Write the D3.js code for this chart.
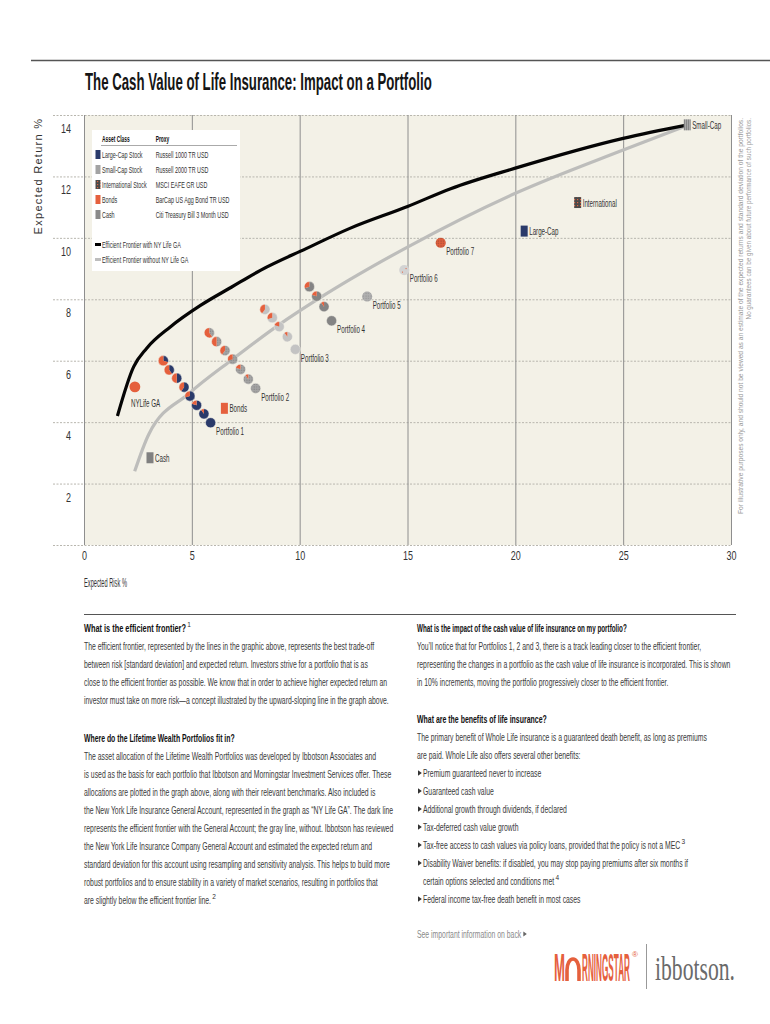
<!DOCTYPE html>
<html><head><meta charset="utf-8">
<script src="https://cdn.jsdelivr.net/npm/d3@7"></script>
<style>body{margin:0;background:#fff}</style>
</head><body>
<svg id="c" width="770" height="1024"></svg>
<script>
// ---------------- DATA ----------------
const xTicks = [0, 5, 10, 15, 20, 25, 30];
const yTicks = [2, 4, 6, 8, 10, 12, 14];
const yGrid = [0, 2, 4, 6, 8, 10, 12, 14];

// efficient frontiers [risk, return]
const frontierWithGA = [[1.55,4.2],[2.3,5.8],[2.9,6.4],[4.0,7.1],[5.4,7.8],[6.85,8.4],[8.2,8.95],[10.3,9.65],[12.3,10.3],[15,11.02],[17,11.6],[20,12.27],[25,13.24],[28,13.68]];
const frontierWithoutGA = [[2.35,2.4],[3.0,3.6],[4.9,4.95],[6.8,6.0],[9.1,7.2],[10.9,8.03],[12.3,8.63],[15,9.7],[20,11.45],[25,12.86],[27.9,13.64]];

// portfolio tracks [risk, return, share of NY Life GA]
const portfolio1Track = [[3.68,6.00,0.7],[3.95,5.70,0.6],[4.30,5.43,0.5],[4.64,5.14,0.4],[4.91,4.85,0.3],[5.22,4.55,0.2],[5.56,4.27,0.1],[5.87,3.98,0]];
const portfolio2Track = [[5.81,6.91,0.6],[6.15,6.62,0.5],[6.54,6.33,0.4],[6.89,6.05,0.3],[7.26,5.72,0.2],[7.62,5.40,0.1],[7.96,5.10,0]];
const portfolio3Track = [[8.39,7.67,0.4],[8.73,7.40,0.3],[9.05,7.11,0.2],[9.43,6.78,0.1],[9.80,6.37,0]];
const portfolio4Track = [[10.45,8.41,0.3],[10.79,8.10,0.2],[11.13,7.76,0.1],[11.48,7.30,0]];
const trackNames = ["Portfolio 1", "Portfolio 2", "Portfolio 3", "Portfolio 4"];

// single portfolios
const singleNames = ["Portfolio 5", "Portfolio 6", "Portfolio 7"];
const singleRisk = [13.13, 14.85, 16.54];
const singleReturn = [8.09, 8.95, 9.84];

// NY Life General Account
const gaName = "NYLife GA";
const gaRisk = 2.36, gaReturn = 5.15;

// benchmarks
const benchNames = ["Bonds", "Cash", "Large-Cap", "International", "Small-Cap"];
const benchRisk = [6.51, 3.06, 20.41, 22.89, 27.97];
const benchReturn = [4.45, 2.84, 10.22, 11.15, 13.68];

// legend
const assetClasses = ["Large-Cap Stock", "Small-Cap Stock", "International Stock", "Bonds", "Cash"];
const proxies = ["Russell 1000 TR USD", "Russell 2000 TR USD", "MSCI EAFE GR USD", "BarCap US Agg Bond TR USD", "Citi Treasury Bill 3 Month USD"];
const lineLegend = ["Efficient Frontier with NY Life GA", "Efficient Frontier without NY Life GA"];

// ---------------- STYLE ----------------
const FONT = "'Liberation Sans Narrow','Liberation Sans',Arial,sans-serif";
const SANS = "'Liberation Sans',Arial,sans-serif";
const ORANGE = "#e5603d", NAVY = "#2a3a6a";
const svg = d3.select("#c");
const defs = svg.append("defs");
function pat(id, w, bg, draw) {
  const p = defs.append("pattern").attr("id", id).attr("width", w).attr("height", w).attr("patternUnits", "userSpaceOnUse");
  p.append("rect").attr("width", w).attr("height", w).attr("fill", bg);
  draw(p);
}
pat("stip", 2.5, "#a4a4a4", p => p.append("rect").attr("x", 0.5).attr("y", 0.5).attr("width", 1).attr("height", 1).attr("fill", "#7a7a7a"));
pat("stip5", 2.5, "#b0b0b0", p => p.append("rect").attr("x", 0.5).attr("y", 0.5).attr("width", 1).attr("height", 1).attr("fill", "#8a8a8a"));
pat("check", 3, "#4a4a4a", p => p.append("rect").attr("x", 1).attr("y", 1).attr("width", 1.2).attr("height", 1.2).attr("fill", "#e0643f"));
pat("p7", 2.5, "#e0603d", p => p.append("rect").attr("x", 0.5).attr("y", 0.5).attr("width", 1).attr("height", 1).attr("fill", "#8a4232"));
pat("stripe", 2, "#a9a9a9", p => p.append("rect").attr("x", 0).attr("y", 0).attr("width", 0.8).attr("height", 2).attr("fill", "#7d7d7d"));

function measure(str, size, weight, family) {
  const t = svg.append("text").attr("font-family", family || FONT).attr("font-size", size).attr("font-weight", weight || "normal").text(str);
  const w = t.node().getComputedTextLength(); t.remove(); return w;
}
// condensed text helper: horizontal scale transform
function ctext(g, str, x, y, o) {
  const w0 = measure(str, o.size, o.weight, o.family);
  const k = o.width != null ? o.width / w0 : o.k;
  const t = g.append("text")
    .attr("font-family", o.family || FONT).attr("font-size", o.size)
    .attr("font-weight", o.weight || "normal").attr("fill", o.fill || "#333")
    .attr("text-anchor", o.anchor || "start")
    .attr("transform", `translate(${x},${y})${o.rotate ? " rotate(" + o.rotate + ")" : ""} scale(${k},1)`)
    .text(str);
  t.w = w0 * k;
  return t;
}

// ---------------- LAYOUT ----------------
const x = d3.scaleLinear().domain([0, 30]).range([84, 731]);
const y = d3.scaleLinear().domain([0, 14]).range([545, 115]);

// top rule
svg.append("line").attr("x1", 31).attr("x2", 770).attr("y1", 60.5).attr("y2", 60.5).attr("stroke", "#555").attr("stroke-width", 1.3);

// title
ctext(svg, "The Cash Value of Life Insurance: Impact on a Portfolio", 85, 89.5, {size: 23, weight: "bold", fill: "#151515", width: 347});

// plot background
svg.append("rect").attr("x", x(0)).attr("y", y(14)).attr("width", x(30) - x(0)).attr("height", y(0) - y(14)).attr("fill", "#f3f1e7");

// horizontal dotted grid
const hg = svg.append("g").attr("transform", "translate(53,0)")
  .call(d3.axisLeft(y).tickValues(yGrid).tickSize(-(x(30) - 53)).tickFormat(""));
hg.select(".domain").remove();
hg.selectAll("line").attr("stroke", "#b8b6ae").attr("stroke-dasharray", "2,1.5").attr("stroke-width", 1);

// vertical grid
const vg = svg.append("g").attr("transform", `translate(0,${y(0)})`)
  .call(d3.axisBottom(x).tickValues(xTicks).tickSize(-(y(0) - y(14))).tickFormat(""));
vg.select(".domain").remove();
vg.selectAll("line").attr("stroke", "#8e8e8e").attr("stroke-width", 1);

const kTick = 10 / measure("14", 12.5);
// y tick labels (placed under each gridline)
const yl = svg.append("g").attr("transform", "translate(71,0)")
  .call(d3.axisLeft(y).tickValues(yTicks).tickSize(0).tickPadding(0).tickFormat(d3.format("d")));
yl.select(".domain").remove();
yl.selectAll("text").attr("font-family", FONT).attr("font-size", 12.5).attr("fill", "#333")
  .attr("x", 0).attr("dy", "1.4em").attr("transform", `scale(${kTick},1)`);

// x tick labels
const xl = svg.append("g").attr("transform", `translate(0,${y(0)})`)
  .call(d3.axisBottom(x).tickValues(xTicks).tickSize(0).tickPadding(0).tickFormat(d3.format("d")));
xl.select(".domain").remove();
xl.selectAll("text").attr("font-family", FONT).attr("font-size", 12.5).attr("fill", "#333")
  .attr("dy", "1.2em").attr("transform", `scale(${kTick},1)`);

// axis titles
ctext(svg, "Expected Risk %", 84, 587, {size: 12, width: 43});
svg.append("text").attr("transform", "translate(42,176) rotate(-90)")
  .attr("text-anchor", "middle").attr("font-family", SANS)
  .attr("font-size", 11).attr("letter-spacing", 1.3).attr("fill", "#333").text("Expected Return %");

// disclaimer
const disc = svg.append("g");
ctext(disc, "For illustrative purposes only, and should not be viewed as an estimate of the expected returns and standard deviation of the portfolios.", 743, 118, {size: 6.5, fill: "#9a9a9a", anchor: "end", width: 397, family: SANS, rotate: -90});
ctext(disc, "No guarantees can be given about future performance of such portfolios.", 751, 118, {size: 6.5, fill: "#9a9a9a", anchor: "end", width: 202, family: SANS, rotate: -90});

// legend box
const lg = svg.append("g");
lg.append("rect").attr("x", 92).attr("y", 130).attr("width", 148).attr("height", 141).attr("fill", "#fff");
const kLeg = 40.7 / measure("Large-Cap Stock", 9);
const kLegB = 27.7 / measure("Asset Class", 8.5, "bold");
ctext(lg, "Asset Class", 102, 142, {size: 8.5, weight: "bold", fill: "#111", k: kLegB});
ctext(lg, "Proxy", 155.7, 142, {size: 8.5, weight: "bold", fill: "#111", k: kLegB});
lg.append("line").attr("x1", 101).attr("x2", 237).attr("y1", 145.5).attr("y2", 145.5).attr("stroke", "#aaa").attr("stroke-width", 1);
const swatchFill = [NAVY, "#a3a3a3", "url(#check)", ORANGE, "#8a8a8a"];
assetClasses.forEach((a, i) => {
  const cy = 154.5 + i * 15;
  lg.append("rect").attr("x", 95.5).attr("y", cy - 4.5).attr("width", 5).attr("height", 9).attr("fill", swatchFill[i]);
  ctext(lg, a, 102, cy + 3.3, {size: 9, fill: "#333", k: kLeg});
  ctext(lg, proxies[i], 155.7, cy + 3.3, {size: 9, fill: "#333", k: kLeg});
});
lineLegend.forEach((l, i) => {
  const cy = 244.5 + i * 15;
  lg.append("line").attr("x1", 95).attr("x2", 101).attr("y1", cy).attr("y2", cy)
    .attr("stroke", i === 0 ? "#000" : "#bdbdbd").attr("stroke-width", 3);
  ctext(lg, l, 102, cy + 3.3, {size: 9, fill: "#333", k: kLeg});
});

// frontier lines
const line = d3.line().x(d => x(d[0])).y(d => y(d[1])).curve(d3.curveMonotoneX);
svg.append("path").datum(frontierWithoutGA).attr("d", line).attr("fill", "none").attr("stroke", "#bdbdbb").attr("stroke-width", 3.2);
svg.append("path").datum(frontierWithGA).attr("d", line).attr("fill", "none").attr("stroke", "#050505").attr("stroke-width", 3.2);

// pies
const R = 5.1;
const arc = d3.arc().innerRadius(0).outerRadius(R);
const pie = d3.pie().sort(null).value(d => d);
const trackBase = [NAVY, "url(#stip)", "#c3c3c3", "#848484"];
const kLab = 28 / measure("Portfolio 1", 10.5);
[portfolio1Track, portfolio2Track, portfolio3Track, portfolio4Track].forEach((tr, ti) => {
  const g = svg.append("g");
  tr.forEach(d => {
    const pg = g.append("g").attr("transform", `translate(${x(d[0])},${y(d[1])})`);
    pg.selectAll("path").data(pie([1 - d[2], d[2]])).enter().append("path")
      .attr("d", arc).attr("fill", (p, j) => j === 0 ? trackBase[ti] : ORANGE);
    pg.append("circle").attr("r", R).attr("fill", "none").attr("stroke", "#f3f1e7").attr("stroke-width", 0.5);
  });
  const last = tr[tr.length - 1];
  ctext(svg, trackNames[ti], x(last[0]) + 5.5, y(last[1]) + 12.5, {size: 10.5, fill: "#333", k: kLab});
});

// single portfolios
const singleFill = ["url(#stip5)", "#d3d3d3", "url(#p7)"];
singleNames.forEach((n, i) => {
  const cx = x(singleRisk[i]), cy = y(singleReturn[i]);
  svg.append("circle").attr("cx", cx).attr("cy", cy).attr("r", R).attr("fill", singleFill[i]);
  if (i === 1) {
    svg.append("circle").attr("cx", cx + 1.8).attr("cy", cy - 1.5).attr("r", 0.6).attr("fill", ORANGE);
    svg.append("circle").attr("cx", cx - 1.8).attr("cy", cy + 2).attr("r", 0.6).attr("fill", ORANGE);
  }
  ctext(svg, n, cx + 5.5, cy + 12, {size: 10.5, fill: "#333", k: kLab});
});

// NY Life GA
svg.append("circle").attr("cx", x(gaRisk)).attr("cy", y(gaReturn)).attr("r", R + 0.3).attr("fill", ORANGE);
ctext(svg, gaName, x(gaRisk) - 4, y(gaReturn) + 20, {size: 10.5, fill: "#333", k: kLab});

// benchmarks
const benchFill = [ORANGE, "#808080", NAVY, "url(#check)", "url(#stripe)"];
benchNames.forEach((n, i) => {
  const cx = x(benchRisk[i]), cy = y(benchReturn[i]);
  svg.append("rect").attr("x", cx - 3.5).attr("y", cy - 5.5).attr("width", 7).attr("height", 11).attr("fill", benchFill[i]);
  ctext(svg, n, cx + 5, cy + 4, {size: 10.5, fill: "#333", k: kLab});
});

// ---------------- TEXT BLOCKS ----------------
svg.append("line").attr("x1", 84).attr("x2", 736).attr("y1", 614.5).attr("y2", 614.5).attr("stroke", "#555").attr("stroke-width", 1.2);

const leftHeading1 = "What is the efficient frontier?";
const leftPara1 = [
  "The efficient frontier, represented by the lines in the graphic above, represents the best trade-off",
  "between risk [standard deviation] and expected return. Investors strive for a portfolio that is as",
  "close to the efficient frontier as possible. We know that in order to achieve higher expected return an",
  "investor must take on more risk\u2014a concept illustrated by the upward-sloping line in the graph above."
];
const leftHeading2 = "Where do the Lifetime Wealth Portfolios fit in?";
const leftPara2 = [
  "The asset allocation of the Lifetime Wealth Portfolios was developed by Ibbotson Associates and",
  "is used as the basis for each portfolio that Ibbotson and Morningstar Investment Services offer. These",
  "allocations are plotted in the graph above, along with their relevant benchmarks. Also included is",
  "the New York Life Insurance General Account, represented in the graph as \u201cNY Life GA\u201d. The dark line",
  "represents the efficient frontier with the General Account; the gray line, without. Ibbotson has reviewed",
  "the New York Life Insurance Company General Account and estimated the expected return and",
  "standard deviation for this account using resampling and sensitivity analysis. This helps to build more",
  "robust portfolios and to ensure stability in a variety of market scenarios, resulting in portfolios that",
  "are slightly below the efficient frontier line."
];
const rightHeading1 = "What is the impact of the cash value of life insurance on my portfolio?";
const rightPara1 = [
  "You\u2019ll notice that for Portfolios 1, 2 and 3, there is a track leading closer to the efficient frontier,",
  "representing the changes in a portfolio as the cash value of life insurance is incorporated. This is shown",
  "in 10% increments, moving the portfolio progressively closer to the efficient frontier."
];
const rightHeading2 = "What are the benefits of life insurance?";
const rightPara2 = [
  "The primary benefit of Whole Life insurance is a guaranteed death benefit, as long as premiums",
  "are paid. Whole Life also offers several other benefits:"
];
const benefits = [
  ["Premium guaranteed never to increase"],
  ["Guaranteed cash value"],
  ["Additional growth through dividends, if declared"],
  ["Tax-deferred cash value growth"],
  ["Tax-free access to cash values via policy loans, provided that the policy is not a MEC"],
  ["Disability Waiver benefits: if disabled, you may stop paying premiums after six months if", "certain options selected and conditions met"],
  ["Federal income tax-free death benefit in most cases"]
];
const benefitNotes = [null, null, null, null, "3", "4", null];

const BODY = 11, LH = 18;
const kBody = 305 / measure(leftPara1[3], BODY);
const tg = svg.append("g");
function sup(t, x0, yb, s) {
  tg.append("text").attr("x", x0 + t.w + 1.2).attr("y", yb - 5).attr("font-family", FONT).attr("font-size", 6.5).attr("fill", "#333").text(s);
}
function heading(s, x0, cy, w) { return ctext(tg, s, x0, cy + 4, {size: BODY, weight: "bold", fill: "#111", width: w}); }
function body(s, x0, cy, fill) { return ctext(tg, s, x0, cy + 4, {size: BODY, fill: fill || "#3a3a3a", k: kBody}); }

let h = heading(leftHeading1, 84, 628, 102); sup(h, 84, 632, "1");
leftPara1.forEach((s, i) => body(s, 84, 646 + i * LH));
heading(leftHeading2, 84, 738, 151);
leftPara2.forEach((s, i) => {
  const t = body(s, 84, 756 + i * LH);
  if (i === leftPara2.length - 1) sup(t, 84, 756 + i * LH + 4, "2");
});
heading(rightHeading1, 417, 628, 210);
rightPara1.forEach((s, i) => body(s, 417, 646 + i * LH));
heading(rightHeading2, 417, 719, 130);
rightPara2.forEach((s, i) => body(s, 417, 737 + i * LH));
let row = 0;
benefits.forEach((b, i) => {
  b.forEach((s, j) => {
    const cy = 773 + row * LH;
    if (j === 0) tg.append("path").attr("d", `M418,${cy - 2.8}L418,${cy + 2.8}L421.8,${cy}Z`).attr("fill", "#333");
    const t = body(s, 423, cy);
    if (j === b.length - 1 && benefitNotes[i]) sup(t, 423, cy + 4, benefitNotes[i]);
    row++;
  });
});
const see = body("See important information on back", 417, 934, "#8a8a8a");
tg.append("path").attr("d", `M${417 + see.w + 2},931.5L${417 + see.w + 2},936.5L${417 + see.w + 5.5},934Z`).attr("fill", "#666");

// logo
const logo = svg.append("g");
ctext(logo, "M", 554, 981, {size: 38, weight: "bold", fill: ORANGE, width: 11});
logo.append("path").attr("d", "M567,981 L567,970 A6,11 0 0 1 579,970 L579,981").attr("fill", "none").attr("stroke", ORANGE).attr("stroke-width", 3.6);
ctext(logo, "RNINGSTAR", 582, 981, {size: 38, weight: "bold", fill: ORANGE, width: 48});
logo.append("text").attr("x", 632).attr("y", 957).attr("font-family", FONT).attr("font-size", 8).attr("fill", ORANGE).text("\u00ae");
logo.append("line").attr("x1", 646.5).attr("x2", 646.5).attr("y1", 944).attr("y2", 989).attr("stroke", "#999").attr("stroke-width", 1);
ctext(logo, "ibbotson.", 655, 980, {size: 34, fill: "#6a6a6a", width: 80, family: "'Liberation Serif','DejaVu Serif',serif"});
</script>
</body></html>
